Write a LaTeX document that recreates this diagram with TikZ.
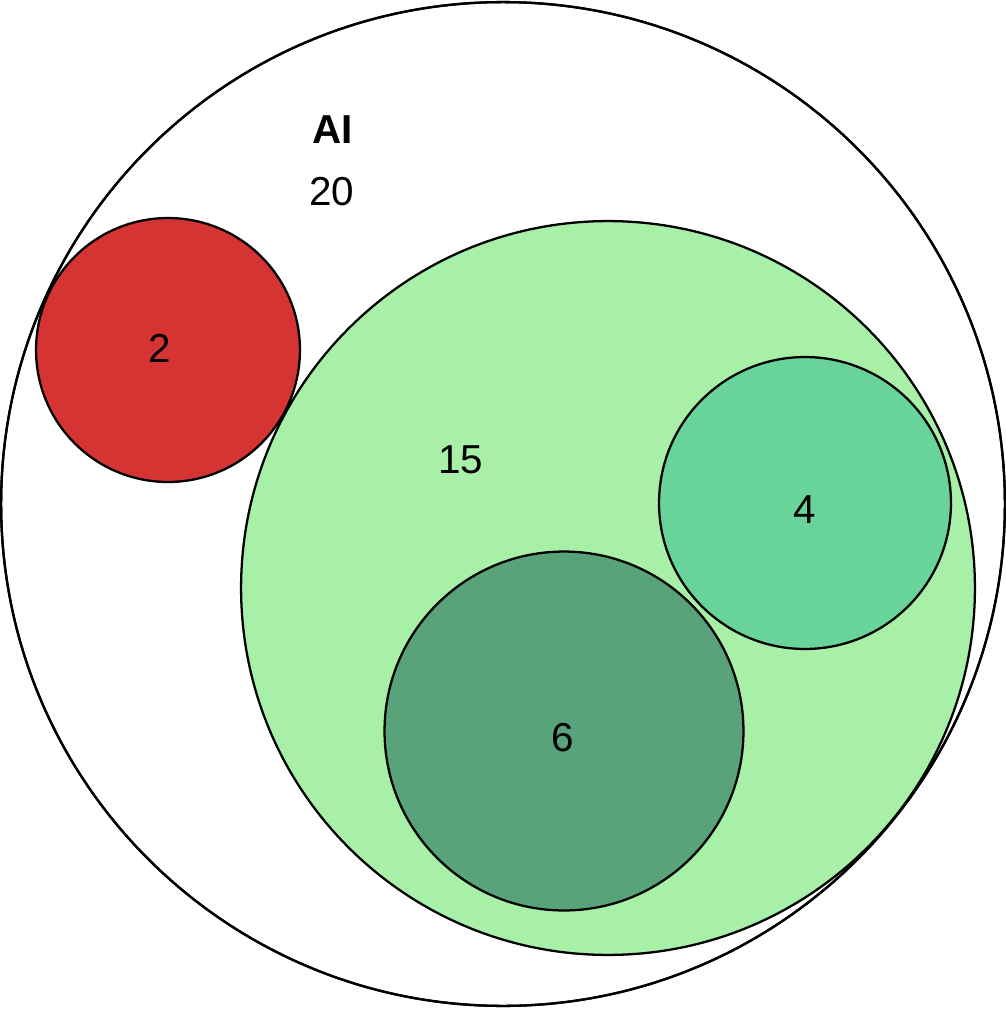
\documentclass[tikz,border=0pt]{standalone}
\usepackage{fontspec}
\setmainfont{Liberation Sans}
\definecolor{setred}{HTML}{D63333}
\definecolor{setlight}{HTML}{A8F0A8}
\definecolor{setmid}{HTML}{68D49A}
\definecolor{setdark}{HTML}{58A37A}
\begin{document}
\begin{tikzpicture}[x=0.02cm, y=-0.02cm,
set/.style={circle, draw=black, line width=1.3pt, inner sep=0pt},
count/.style={font=\fontsize{23}{27}\selectfont, inner sep=0pt},
]
\useasboundingbox (0,0) rectangle (1006,1011);
% outer set
\node (ai) [set, fill=white, minimum size=20.08cm] at (503,504) {};
% subsets
\node (red) [set, fill=setred, minimum size=5.28cm] at (168,350) {};
\node (light) [set, fill=setlight, minimum size=14.68cm] at (608,588) {};
\node (mid) [set, fill=setmid, minimum size=5.84cm] at (805,503) {};
\node (dark) [set, fill=setdark, minimum size=7.18cm] at (564,731) {};
% outer border on top
\draw[line width=1.3pt] (ai.center) circle[radius=10.04cm];
% labels
\node (ailabel) [count, font=\fontsize{23}{27}\selectfont\bfseries] at (333,130) {AI};
\node (n20) [count] at (332,192) {20};
\node (n2) [count] at (160,348) {2};
\node (n15) [count] at (461,460) {15};
\node (n4) [count] at (805,510) {4};
\node (n6) [count] at (563,738) {6};
\end{tikzpicture}
\end{document}
